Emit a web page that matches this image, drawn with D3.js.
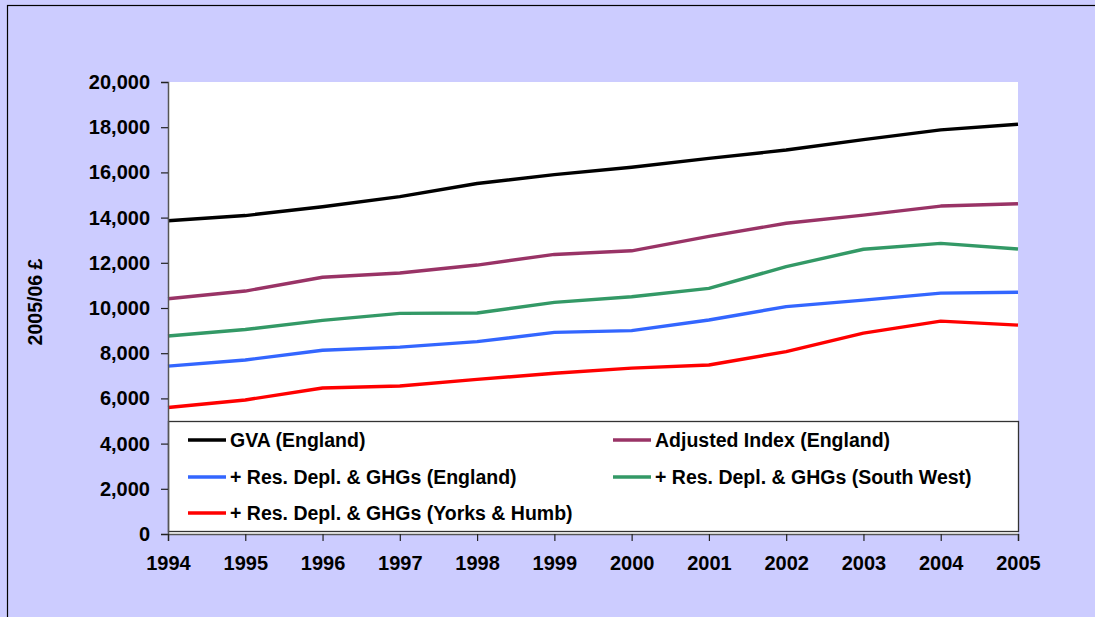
<!DOCTYPE html>
<html>
<head>
<meta charset="utf-8">
<script src="https://cdn.jsdelivr.net/npm/d3@7"></script>
<style>
  body { margin: 0; background: #ccccff; }
  text { font-family: Arial, "Liberation Sans", sans-serif; font-weight: bold; }
</style>
</head>
<body>
<div id="canvas"></div>
<script>
"use strict"

/* Chart data */
let years = [1994, 1995, 1996, 1997, 1998, 1999, 2000, 2001, 2002, 2003, 2004, 2005];
let gvaEngland = [13860, 14090, 14480, 14930, 15510, 15900, 16230, 16620, 16990, 17450, 17880, 18130];
let adjustedEngland = [10410, 10750, 11360, 11550, 11900, 12370, 12530, 13170, 13750, 14110, 14510, 14610];
let resEngland = [7430, 7700, 8130, 8270, 8510, 8920, 9000, 9470, 10060, 10350, 10660, 10700];
let resSouthWest = [8760, 9050, 9450, 9760, 9780, 10250, 10500, 10870, 11830, 12600, 12860, 12610];
let resYorks = [5600, 5930, 6460, 6550, 6840, 7110, 7340, 7480, 8070, 8890, 9420, 9240];
let yTicks = [0, 2000, 4000, 6000, 8000, 10000, 12000, 14000, 16000, 18000, 20000];

let series = [
    { name: "GVA (England)", values: gvaEngland, color: "#000000" },
    { name: "Adjusted Index (England)", values: adjustedEngland, color: "#993366" },
    { name: "+ Res. Depl. & GHGs (England)", values: resEngland, color: "#3366ff" },
    { name: "+ Res. Depl. & GHGs (South West)", values: resSouthWest, color: "#339966" },
    { name: "+ Res. Depl. & GHGs (Yorks & Humb)", values: resYorks, color: "#ff0000" }
];

let drawing = d3.select("#canvas")
    .append("svg")
    .attr("width", 1095)
    .attr("height", 617)
    .style("display", "block");

/* outer frame of the chart area */
let frame = drawing.append("rect")
    .attr("x", 7.5)
    .attr("y", 5.5)
    .attr("width", 1100)
    .attr("height", 620)
    .attr("fill", "#ccccff")
    .attr("stroke", "black")
    .attr("stroke-width", 1.2);

let plotLeft = 168, plotRight = 1018, plotTop = 82, plotBottom = 534;

let x = d3.scalePoint()
    .domain(years)
    .range([plotLeft, plotRight]);

let y = d3.scaleLinear()
    .domain([0, 20000])
    .range([plotBottom, plotTop]);

let plotArea = drawing.append("rect")
    .attr("x", plotLeft)
    .attr("y", plotTop)
    .attr("width", plotRight - plotLeft)
    .attr("height", plotBottom - plotTop)
    .attr("fill", "white");

// lines
let line = d3.line()
    .x((d, i) => x(years[i]))
    .y(d => y(d));

for (let s of series) {
    drawing.append("path")
        .attr("d", line(s.values))
        .attr("fill", "none")
        .attr("stroke", s.color)
        .attr("stroke-width", 3.4)
        .attr("stroke-linejoin", "round");
}

/* legend box sits inside the bottom of the plot */
let legend = drawing.append("g");

legend.append("rect")
    .attr("x", plotLeft + 0.5)
    .attr("y", 421.5)
    .attr("width", plotRight - plotLeft)
    .attr("height", 110)
    .attr("fill", "white")
    .attr("stroke", "#333")
    .attr("stroke-width", 1.3);

let legendX = [188, 613];
let legendY = [440, 477, 513];

series.forEach((s, i) => {
    let lx = legendX[i % 2];
    let ly = legendY[Math.floor(i / 2)];
    legend.append("line")
        .attr("x1", lx)
        .attr("x2", lx + 38)
        .attr("y1", ly)
        .attr("y2", ly)
        .attr("stroke", s.color)
        .attr("stroke-width", 3.4);
    legend.append("text")
        .attr("x", lx + 42)
        .attr("y", ly)
        .attr("dy", "0.36em")
        .attr("font-size", "19.5px")
        .attr("fill", "black")
        .text(s.name);
});

// axes
let yAxis = drawing.append("g")
    .attr("transform", "translate(" + plotLeft + ",0)")
    .call(d3.axisLeft(y)
        .tickValues(yTicks)
        .tickSize(7)
        .tickPadding(11)
        .tickFormat(d3.format(",")));

let xAxis = drawing.append("g")
    .attr("transform", "translate(0," + plotBottom + ")")
    .call(d3.axisBottom(x)
        .tickSize(7)
        .tickPadding(15)
        .tickFormat(d3.format("d")));

for (let ax of [yAxis, xAxis]) {
    ax.select(".domain")
        .attr("stroke", "#555")
        .attr("stroke-width", 1.5);
    ax.selectAll(".tick line")
        .attr("stroke", "#222")
        .attr("stroke-width", 1.2);
    ax.selectAll(".tick text")
        .attr("font-size", "20px")
        .attr("font-family", "Arial, 'Liberation Sans', sans-serif")
        .attr("font-weight", "bold")
        .attr("fill", "black");
}

let yTitle = drawing.append("text")
    .attr("transform", "translate(42,302) rotate(-90)")
    .attr("text-anchor", "middle")
    .attr("font-size", "19.5px")
    .attr("fill", "black")
    .text("2005/06 £");
</script>
</body>
</html>
